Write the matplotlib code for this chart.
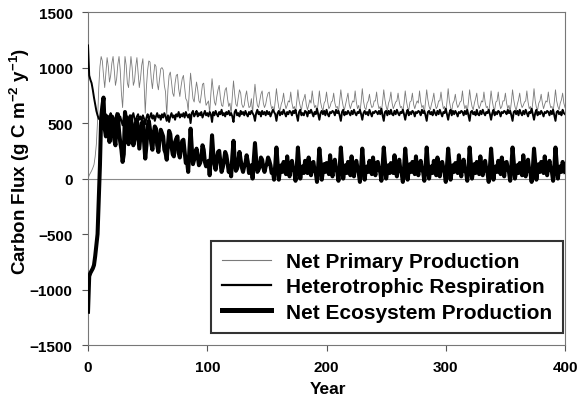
import matplotlib
matplotlib.use('Agg')
import matplotlib.pyplot as plt
from matplotlib.lines import Line2D
import numpy as np

plt.rcParams['font.family'] = ['Liberation Sans', 'DejaVu Sans']
plt.rcParams['font.weight'] = 'bold'
plt.rcParams['mathtext.fontset'] = 'custom'
plt.rcParams['mathtext.rm'] = 'Liberation Sans:bold'
plt.rcParams['mathtext.default'] = 'rm'

# Annual values (g C m-2 y-1), years 0..400
npp = [0, 30, 50, 70, 95, 125, 200, 310, 520, 820,
       1010, 1100, 1060, 930, 820, 950, 1090, 1010, 870, 930,
       1040, 1100, 980, 840, 900, 1030, 1100, 980, 770, 640,
       880, 1100, 1020, 860, 820, 970, 1100, 1000, 840, 880,
       1010, 1090, 950, 820, 900, 1020, 1080, 860, 590, 830,
       980, 1060, 1050, 900, 810, 930, 1030, 1010, 860, 800,
       900, 990, 1000, 980, 840, 780, 570, 800, 930, 960,
       870, 770, 740, 860, 930, 940, 810, 740, 830, 900,
       930, 820, 720, 700, 610, 800, 950, 840, 720, 690,
       790, 870, 800, 700, 680, 760, 850, 860, 740, 660,
       680, 700, 590, 760, 900, 790, 690, 660, 740, 800,
       840, 730, 660, 650, 730, 800, 820, 720, 650, 680,
       580, 740, 880, 760, 670, 650, 730, 800, 770, 670,
       640, 660, 740, 790, 700, 640, 650, 720, 590, 730,
       850, 740, 660, 640, 700, 760, 790, 680, 640, 670,
       730, 770, 780, 680, 630, 650, 600, 700, 810, 710,
       640, 610, 670, 700, 770, 680, 630, 660, 700, 690,
       780, 680, 630, 650, 600, 690, 800, 700, 650, 620,
       690, 720, 760, 670, 620, 660, 710, 680, 790, 700,
       640, 660, 590, 680, 790, 690, 640, 610, 680, 700,
       780, 690, 630, 650, 690, 700, 770, 680, 640, 650,
       600, 700, 800, 710, 650, 620, 670, 720, 770, 670,
       630, 670, 700, 690, 790, 690, 630, 660, 590, 690,
       810, 700, 640, 620, 680, 700, 760, 680, 640, 650,
       700, 700, 780, 680, 630, 650, 600, 690, 800, 710,
       650, 610, 680, 710, 780, 680, 630, 660, 690, 700,
       770, 690, 640, 650, 600, 680, 790, 700, 640, 620,
       690, 700, 770, 670, 630, 670, 700, 680, 790, 690,
       640, 660, 590, 690, 800, 710, 650, 620, 670, 710,
       770, 680, 630, 650, 700, 700, 780, 690, 630, 650,
       600, 690, 810, 700, 640, 610, 680, 700, 760, 680,
       640, 660, 690, 700, 790, 680, 630, 660, 600, 690,
       800, 710, 650, 620, 680, 720, 770, 670, 630, 660,
       700, 690, 780, 690, 640, 650, 590, 680, 790, 700,
       640, 620, 690, 700, 780, 680, 630, 650, 700, 700,
       770, 680, 630, 660, 600, 690, 800, 710, 650, 610,
       670, 710, 770, 680, 640, 660, 690, 700, 790, 690,
       630, 650, 600, 690, 810, 700, 640, 620, 680, 700,
       760, 680, 630, 670, 700, 690, 780, 690, 640, 650,
       600, 690, 800, 700, 650, 620, 680, 710, 770, 680,
       640]

rh = [1200, 930, 890, 860, 800, 730, 670, 610, 570, 540,
      530, 550, 600, 560, 520, 580, 540, 500, 560, 590,
      530, 560, 510, 550, 590, 540, 500, 560, 520, 480,
      550, 590, 540, 560, 510, 570, 530, 550, 590, 540,
      510, 560, 580, 530, 560, 520, 570, 540, 490, 550,
      580, 530, 560, 590, 540, 570, 520, 560, 590, 550,
      570, 530, 580, 550, 590, 560, 520, 570, 510, 560,
      590, 550, 570, 530, 580, 560, 600, 550, 580, 560,
      590, 550, 600, 570, 550, 580, 500, 590, 610, 560,
      580, 610, 560, 590, 570, 600, 550, 580, 610, 570,
      590, 560, 600, 580, 510, 600, 570, 610, 580, 560,
      600, 580, 620, 570, 590, 560, 600, 580, 610, 570,
      590, 560, 510, 600, 620, 570, 590, 560, 610, 580,
      600, 570, 610, 580, 560, 600, 580, 610, 590, 570,
      520, 590, 620, 580, 600, 560, 610, 580, 600, 570,
      610, 580, 600, 560, 590, 620, 600, 580, 520, 590,
      610, 570, 600, 580, 620, 590, 560, 600, 580, 610,
      600, 570, 610, 590, 620, 570, 520, 600, 620, 570,
      590, 570, 610, 600, 560, 610, 590, 620, 590, 560,
      600, 580, 630, 580, 530, 590, 610, 580, 610, 570,
      620, 580, 560, 600, 590, 610, 600, 570, 620, 590,
      610, 570, 520, 600, 620, 570, 600, 580, 610, 590,
      570, 610, 580, 620, 590, 570, 600, 590, 620, 580,
      530, 590, 610, 580, 600, 570, 620, 590, 560, 600,
      590, 610, 600, 580, 610, 580, 630, 570, 520, 600,
      610, 570, 610, 580, 620, 580, 570, 610, 580, 620,
      590, 570, 600, 590, 620, 580, 530, 590, 620, 570,
      600, 580, 610, 600, 560, 600, 590, 610, 600, 570,
      620, 590, 610, 570, 520, 600, 610, 580, 600, 570,
      620, 590, 570, 610, 580, 620, 590, 560, 600, 590,
      630, 580, 530, 590, 620, 570, 610, 580, 610, 590,
      560, 600, 590, 610, 600, 570, 610, 580, 620, 570,
      520, 600, 610, 580, 600, 570, 620, 580, 570, 610,
      580, 620, 590, 570, 600, 590, 620, 580, 530, 590,
      620, 570, 600, 580, 610, 600, 560, 600, 590, 610,
      600, 580, 620, 590, 610, 570, 520, 600, 610, 580,
      610, 570, 620, 590, 570, 610, 580, 620, 590, 560,
      600, 590, 630, 580, 530, 590, 620, 570, 600, 580,
      610, 590, 560, 600, 590, 610, 600, 570, 610, 580,
      620, 570, 520, 600, 610, 580, 600, 570, 620, 590,
      580]

nep = [-1200, -880, -850, -830, -810, -780, -700, -600, -500, -200,
       120, 550, 650, 730, 450, 380, 560, 480, 330, 420,
       560, 470, 350, 300, 520, 580, 430, 330, 260, 150,
       220, 600, 520, 380, 310, 470, 560, 430, 300, 350,
       500, 530, 400, 270, 380, 500, 510, 330, 180, 300,
       480, 520, 440, 320, 260, 400, 470, 450, 300, 240,
       350, 440, 410, 380, 260, 230, 170, 300, 430, 400,
       290, 220, 200, 330, 360, 380, 230, 190, 280, 340,
       350, 240, 140, 160, 60, 250, 450, 280, 130, 170,
       230, 270, 200, 120, 140, 190, 300, 260, 150, 110,
       120, 160, 30, 200, 390, 230, 130, 80, 170, 240,
       250, 150, 60, 100, 160, 240, 210, 140, 60, 110,
       20, 200, 340, 180, 70, 90, 150, 240, 170, 100,
       60, 110, 140, 210, 150, 50, 90, 120, 0, 170,
       320, 170, 60, 80, 110, 190, 170, 100, 60, 110,
       130, 190, 160, 120, 50, 70, -10, 120, 280, 140,
       -10, 80, 120, 60, 150, 100, 40, 200, 90, 20,
       130, 160, 80, 60, -20, 100, 280, 130, 0, 90,
       110, 50, 160, 90, 50, 190, 80, 30, 140, 150,
       70, 50, -30, 110, 270, 150, -10, 70, 130, 60,
       140, 110, 40, 210, 90, 20, 120, 170, 80, 60,
       -20, 90, 280, 140, 0, 80, 120, 50, 150, 100,
       30, 200, 100, 20, 130, 160, 90, 50, -30, 100,
       270, 130, -10, 90, 110, 60, 160, 90, 40, 190,
       80, 30, 140, 150, 80, 60, -20, 110, 280, 150,
       0, 70, 120, 50, 140, 100, 50, 210, 90, 20,
       130, 170, 70, 50, -30, 90, 270, 140, -10, 80,
       130, 60, 150, 110, 40, 200, 80, 30, 120, 160,
       80, 60, -20, 100, 280, 130, 0, 90, 110, 50,
       160, 90, 30, 190, 100, 20, 140, 150, 90, 50,
       -30, 110, 270, 150, -10, 70, 120, 60, 140, 100,
       50, 210, 90, 20, 130, 170, 70, 60, -20, 90,
       280, 140, 0, 80, 130, 50, 150, 110, 40, 200,
       80, 30, 120, 160, 80, 50, -30, 100, 270, 130,
       -10, 90, 110, 60, 160, 90, 40, 190, 100, 20,
       140, 150, 90, 60, -20, 110, 280, 150, 0, 70,
       120, 50, 140, 100, 30, 210, 90, 20, 130, 170,
       70, 50, -30, 90, 270, 140, -10, 80, 130, 60,
       150, 110, 50, 200, 80, 30, 120, 160, 80, 60,
       -20, 100, 280, 140, 0, 90, 110, 60, 150, 100,
       60]

labels = ['Net Primary Production', 'Heterotrophic Respiration', 'Net Ecosystem Production']

fig = plt.figure(figsize=(5.81, 4.10), dpi=100)
ax = fig.add_axes([0.1515, 0.156, 0.821, 0.812])

ax.axhline(0, color='#8a8a8a', lw=0.8, zorder=1)
ax.plot(np.arange(len(npp)), npp, color='#7a7a7a', lw=0.6, zorder=2)
ax.plot(np.arange(len(rh)), rh, color='black', lw=1.4, zorder=3)
ax.plot(np.arange(len(nep)), nep, color='black', lw=2.9, zorder=4)

ax.set_xlim(0, 400)
ax.set_ylim(-1500, 1500)
ax.set_xticks(np.arange(0, 401, 100))
ax.set_yticks(np.arange(-1500, 1501, 500))
ax.tick_params(direction='out', length=4, width=0.8, color='#555555',
               labelsize=11, pad=7, top=False, right=False)
for lab in ax.get_xticklabels() + ax.get_yticklabels():
    lab.set_fontweight('bold')
for side in ['left', 'bottom', 'top', 'right']:
    ax.spines[side].set_color('#777777')
    ax.spines[side].set_linewidth(0.8)

ax.set_xlabel('Year', fontsize=12.5, fontweight='bold')
ax.set_ylabel('Carbon Flux (g C m$^{-2}$ y$^{-1}$)', fontsize=13.5, fontweight='bold')
ax.xaxis.set_label_coords(0.503, -0.108)
ax.yaxis.set_label_coords(-0.118, 0.553)

handles = [Line2D([], [], color='#7a7a7a', lw=0.8),
           Line2D([], [], color='black', lw=1.6),
           Line2D([], [], color='black', lw=3.6)]
leg = ax.legend(handles, labels, loc='lower right', bbox_to_anchor=(0.996, 0.036),
                prop={'size': 15, 'weight': 'bold'}, frameon=True, fancybox=False,
                handlelength=2.35, handletextpad=0.7, labelspacing=0.3,
                borderpad=0.55, borderaxespad=0)
leg.get_frame().set_edgecolor('black')
leg.get_frame().set_linewidth(1.5)

fig.savefig('out.png', dpi=100)
